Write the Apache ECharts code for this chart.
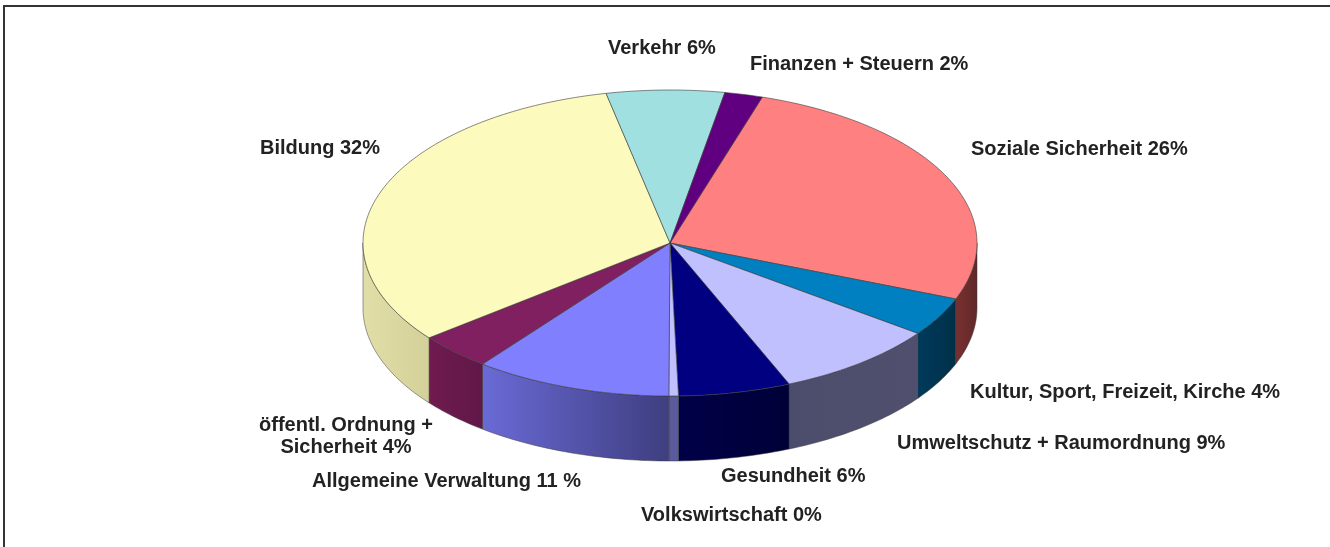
<!DOCTYPE html>
<html>
<head>
<meta charset="utf-8">
<title>Staatsausgaben</title>
<script src="https://cdn.jsdelivr.net/npm/echarts@6/dist/echarts.min.js"></script>
<style>
  html, body { margin: 0; padding: 0; background: #fff; }
  #chart { width: 1330px; height: 547px; }
</style>
</head>
<body>
<div id="chart"></div>
<script>
// Werte im Uhrzeigersinn, beginnend bei "Soziale Sicherheit"
const categories = ['Soziale Sicherheit', 'Kultur, Sport, Freizeit, Kirche', 'Umweltschutz + Raumordnung', 'Gesundheit', 'Volkswirtschaft', 'Allgemeine Verwaltung', 'öffentl. Ordnung + Sicherheit', 'Bildung', 'Verkehr', 'Finanzen + Steuern'];
const values = [26.1, 4.1, 8.6, 5.9, 0.5, 10.4, 3.9, 32.3, 6.2, 2];
const labelTexts = ['Soziale Sicherheit 26%', 'Kultur, Sport, Freizeit, Kirche 4%', 'Umweltschutz + Raumordnung 9%', 'Gesundheit 6%', 'Volkswirtschaft 0%', 'Allgemeine Verwaltung 11 %', 'öffentl. Ordnung +\nSicherheit 4%', 'Bildung 32%', 'Verkehr 6%', 'Finanzen + Steuern 2%'];
const topColors = ['#ff8080', '#0080c0', '#c0c0ff', '#000080', '#c0c0ff', '#8080ff', '#802060', '#fcfabc', '#a0e0e0', '#600080'];
const sideColors = [['#7a3030', '#602828'], ['#003a5c', '#003048'], ['#4c4c6c', '#50506e'], ['#000048', '#000038'], ['#5a5a9c', '#5a5a9c'], ['#6a6ad6', '#3e3e80'], ['#701a50', '#601848'], ['#e2dea8', '#d4d09a'], ['#000', '#000'], ['#000', '#000']];

// Position der Beschriftungen
const labelPos = [[971, 149, 'left'], [970, 392, 'left'], [897, 443, 'left'], [721, 476, 'left'], [641, 515, 'left'], [312, 481, 'left'], [346, 436, 'center'], [260, 148, 'left'], [608, 48, 'left'], [750, 64, 'left']];

// Ellipse der Torte
const cx = 670, cy = 243, rx = 307, ry = 153, depth = 65;
const startAngle = 17.5;

const total = values.reduce((a, b) => a + b, 0);
const angles = [];
let cur = startAngle;
values.forEach(function (v) {
  angles.push([cur, cur + v / total * 360]);
  cur += v / total * 360;
});

function pt(deg, dy) {
  const r = deg * Math.PI / 180;
  return [cx + rx * Math.sin(r), cy - ry * Math.cos(r) + dy];
}
function arc(a0, a1, dy) {
  const pts = [];
  const n = Math.max(2, Math.ceil(Math.abs(a1 - a0)));
  for (let i = 0; i <= n; i++) pts.push(pt(a0 + (a1 - a0) * i / n, dy));
  return pts;
}

const chart = echarts.init(document.getElementById('chart'));
chart.setOption({
  animation: false,
  backgroundColor: '#fff',
  graphic: [{
    type: 'polyline',
    silent: true,
    shape: { points: [[4, 547], [4, 6], [1330, 6]] },
    style: { stroke: '#333', lineWidth: 2, fill: null }
  }],
  series: [{
    // Seitenwand
    type: 'custom',
    coordinateSystem: 'none',
    silent: true,
    data: values,
    renderItem: function (params) {
      const i = params.dataIndex;
      const a0 = Math.max(angles[i][0], 90), a1 = Math.min(angles[i][1], 270);
      if (a1 <= a0) return { type: 'group', children: [] };
      const pts = arc(a0, a1, 0).concat(arc(a1, a0, depth));
      return {
        type: 'polygon',
        shape: { points: pts },
        style: {
          fill: {
            type: 'linear', x: 0, y: 0, x2: 1, y2: 0,
            colorStops: [{ offset: 0, color: sideColors[i][0] }, { offset: 1, color: sideColors[i][1] }]
          },
          stroke: '#3a3a3a',
          lineWidth: 0.5
        }
      };
    }
  }, {
    // Deckel
    type: 'custom',
    coordinateSystem: 'none',
    silent: true,
    data: values,
    renderItem: function (params) {
      const i = params.dataIndex;
      const pts = [[cx, cy]].concat(arc(angles[i][0], angles[i][1], 0));
      return {
        type: 'polygon',
        shape: { points: pts },
        style: { fill: topColors[i], stroke: '#3a3a3a', lineWidth: 0.6 }
      };
    }
  }, {
    // Beschriftung
    type: 'custom',
    coordinateSystem: 'none',
    silent: true,
    data: labelTexts,
    renderItem: function (params) {
      const i = params.dataIndex;
      return {
        type: 'text',
        style: {
          x: labelPos[i][0],
          y: labelPos[i][1],
          text: labelTexts[i],
          align: labelPos[i][2],
          verticalAlign: 'middle',
          fill: '#222',
          font: 'bold 20px "Liberation Sans", Arial, sans-serif',
          lineHeight: 22
        }
      };
    }
  }]
});
</script>
</body>
</html>
